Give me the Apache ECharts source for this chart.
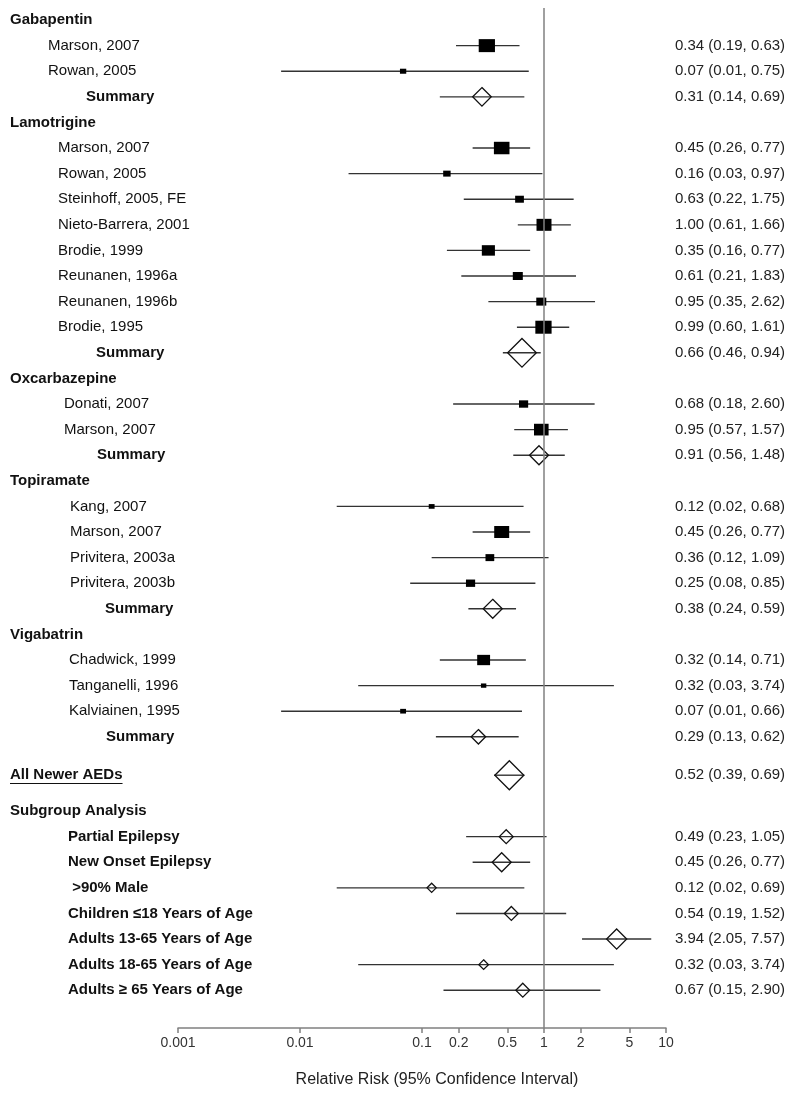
<!DOCTYPE html>
<html>
<head>
<meta charset="utf-8">
<style>
  html, body { margin: 0; padding: 0; background: #fff; }
  #chart { width: 800px; height: 1100px; }
</style>
<script src="https://cdn.jsdelivr.net/npm/echarts@6/dist/echarts.min.js"></script>
</head>
<body>
<div id="chart"></div>
<script>
// ============================================
// Data
// ============================================
const labels = [
    'Gabapentin', 'Marson, 2007', 'Rowan, 2005', 'Summary',
    'Lamotrigine', 'Marson, 2007', 'Rowan, 2005', 'Steinhoff, 2005, FE', 'Nieto-Barrera, 2001',
    'Brodie, 1999', 'Reunanen, 1996a', 'Reunanen, 1996b', 'Brodie, 1995', 'Summary',
    'Oxcarbazepine', 'Donati, 2007', 'Marson, 2007', 'Summary',
    'Topiramate', 'Kang, 2007', 'Marson, 2007', 'Privitera, 2003a', 'Privitera, 2003b', 'Summary',
    'Vigabatrin', 'Chadwick, 1999', 'Tanganelli, 1996', 'Kalviainen, 1995', 'Summary',
    'All Newer AEDs',
    'Subgroup Analysis', 'Partial Epilepsy', 'New Onset Epilepsy', ' >90% Male',
    'Children \u226418 Years of Age', 'Adults 13-65 Years of Age', 'Adults 18-65 Years of Age',
    'Adults \u2265 65 Years of Age'
];

// head = drug heading, study = single trial, summary = pooled drug estimate,
// total = all drugs pooled, subhead / sub = subgroup block
const kinds = [
    'head', 'study', 'study', 'summary',
    'head', 'study', 'study', 'study', 'study', 'study', 'study', 'study', 'study', 'summary',
    'head', 'study', 'study', 'summary',
    'head', 'study', 'study', 'study', 'study', 'summary',
    'head', 'study', 'study', 'study', 'summary',
    'total',
    'subhead', 'sub', 'sub', 'sub', 'sub', 'sub', 'sub', 'sub'
];

const rr = [
    null, 0.34, 0.07, 0.31,
    null, 0.45, 0.16, 0.63, 1.00, 0.35, 0.61, 0.95, 0.99, 0.66,
    null, 0.68, 0.95, 0.91,
    null, 0.12, 0.45, 0.36, 0.25, 0.38,
    null, 0.32, 0.32, 0.07, 0.29,
    0.52,
    null, 0.49, 0.45, 0.12, 0.54, 3.94, 0.32, 0.67
];

const lower = [
    null, 0.19, 0.007, 0.14,
    null, 0.26, 0.025, 0.22, 0.61, 0.16, 0.21, 0.35, 0.60, 0.46,
    null, 0.18, 0.57, 0.56,
    null, 0.02, 0.26, 0.12, 0.08, 0.24,
    null, 0.14, 0.03, 0.007, 0.13,
    0.39,
    null, 0.23, 0.26, 0.02, 0.19, 2.05, 0.03, 0.15
];

const upper = [
    null, 0.63, 0.75, 0.69,
    null, 0.77, 0.97, 1.75, 1.66, 0.77, 1.83, 2.62, 1.61, 0.94,
    null, 2.60, 1.57, 1.48,
    null, 0.68, 0.77, 1.09, 0.85, 0.59,
    null, 0.71, 3.74, 0.66, 0.62,
    0.69,
    null, 1.05, 0.77, 0.69, 1.52, 7.57, 3.74, 2.90
];

// relative marker weight (marker area is proportional to it)
const weights = [
    null, 100, 15, 41,
    null, 92, 21, 29, 85, 65, 38, 38, 100, 98,
    null, 32, 81, 43,
    null, 13, 85, 29, 32, 43,
    null, 63, 11, 13, 25,
    100,
    null, 23, 43, 10, 23, 48, 11, 23
];

const estimateText = [
    '', '0.34 (0.19, 0.63)', '0.07 (0.01, 0.75)', '0.31 (0.14, 0.69)',
    '', '0.45 (0.26, 0.77)', '0.16 (0.03, 0.97)', '0.63 (0.22, 1.75)', '1.00 (0.61, 1.66)',
    '0.35 (0.16, 0.77)', '0.61 (0.21, 1.83)', '0.95 (0.35, 2.62)', '0.99 (0.60, 1.61)', '0.66 (0.46, 0.94)',
    '', '0.68 (0.18, 2.60)', '0.95 (0.57, 1.57)', '0.91 (0.56, 1.48)',
    '', '0.12 (0.02, 0.68)', '0.45 (0.26, 0.77)', '0.36 (0.12, 1.09)', '0.25 (0.08, 0.85)', '0.38 (0.24, 0.59)',
    '', '0.32 (0.14, 0.71)', '0.32 (0.03, 3.74)', '0.07 (0.01, 0.66)', '0.29 (0.13, 0.62)',
    '0.52 (0.39, 0.69)',
    '', '0.49 (0.23, 1.05)', '0.45 (0.26, 0.77)', '0.12 (0.02, 0.69)', '0.54 (0.19, 1.52)',
    '3.94 (2.05, 7.57)', '0.32 (0.03, 3.74)', '0.67 (0.15, 2.90)'
];

const tickValues = [0.001, 0.01, 0.1, 0.2, 0.5, 1, 2, 5, 10];
const axisTitle = 'Relative Risk (95% Confidence Interval)';

// ============================================
// Layout helpers
// ============================================
const FONT = 'Arial, "Liberation Sans", sans-serif';
const studyIndent = [48, 58, 64, 70, 69];
const summaryIndent = [86, 96, 97, 105, 106];

// row positions: one unit per row, a bit of extra space around the total
const rowY = [];
let yPos = 0;
labels.forEach((lab, i) => {
    if (i > 0) yPos += 1;
    if (kinds[i] === 'total') yPos += 0.5;
    if (kinds[i] === 'subhead') yPos += 0.4;
    rowY.push(yPos);
});

const labelX = [];
let groupIdx = -1;
kinds.forEach((k, i) => {
    if (k === 'head') { groupIdx++; labelX.push(10); }
    else if (k === 'study') labelX.push(studyIndent[groupIdx]);
    else if (k === 'summary') labelX.push(summaryIndent[groupIdx]);
    else if (k === 'sub') labelX.push(68);
    else labelX.push(10);
});

const log10 = v => Math.log10(v);

const ciData = [];
const squareData = [];
const diamondData = [];
rr.forEach((v, i) => {
    if (v === null) return;
    ciData.push([log10(lower[i]), log10(upper[i]), rowY[i]]);
    if (kinds[i] === 'study') squareData.push([log10(v), rowY[i], weights[i]]);
    else diamondData.push([log10(v), rowY[i], weights[i]]);
});

const measureCtx = document.createElement('canvas').getContext('2d');

// ============================================
// Chart
// ============================================
const chart = echarts.init(document.getElementById('chart'), null, { renderer: 'canvas' });

const option = {
    animation: false,
    backgroundColor: '#ffffff',
    grid: { left: 178, right: 134, top: 8, bottom: 72 },
    xAxis: {
        type: 'value',
        min: -3,
        max: 1,
        name: axisTitle,
        nameLocation: 'middle',
        nameGap: 44,
        nameTextStyle: { fontFamily: FONT, fontSize: 16, color: '#222', padding: [0, 0, 0, 30] },
        axisLine: { onZero: false, lineStyle: { color: '#808080', width: 1.5 } },
        axisTick: { length: 5, lineStyle: { color: '#808080', width: 1.5 }, customValues: tickValues.map(log10) },
        axisLabel: {
            customValues: tickValues.map(log10),
            fontFamily: FONT,
            fontSize: 14,
            color: '#333',
            margin: 8,
            formatter: v => String(Number(Math.pow(10, v).toPrecision(1)))
        },
        splitLine: { show: false }
    },
    yAxis: {
        type: 'value',
        inverse: true,
        min: -0.47,
        max: 39.375,
        show: false
    },
    series: [
        {
            // confidence interval whiskers + reference line at RR = 1
            type: 'custom',
            z: 2,
            data: ciData,
            renderItem: (params, api) => {
                const a = api.coord([api.value(0), api.value(2)]);
                const b = api.coord([api.value(1), api.value(2)]);
                return {
                    type: 'line',
                    shape: { x1: a[0], y1: a[1], x2: b[0], y2: b[1] },
                    style: { stroke: '#333', lineWidth: 1.4 }
                };
            },
            markLine: {
                silent: true,
                symbol: 'none',
                label: { show: false },
                lineStyle: { color: '#808080', width: 1.5, type: 'solid' },
                data: [{ xAxis: 0 }]
            }
        },
        {
            type: 'scatter',
            z: 3,
            symbol: 'rect',
            data: squareData,
            symbolSize: val => {
                const s = 1.3 * Math.sqrt(val[2]);
                return [s * 1.25, s];
            },
            itemStyle: { color: '#000', opacity: 1 }
        },
        {
            type: 'scatter',
            z: 4,
            symbol: 'diamond',
            data: diamondData,
            symbolSize: val => 2.9 * Math.sqrt(val[2]),
            itemStyle: { color: 'rgba(255,255,255,0)', borderColor: '#111', borderWidth: 1.3, opacity: 1 }
        },
        {
            // left-hand row labels
            type: 'custom',
            z: 5,
            data: labels.map((lab, i) => [i, rowY[i]]),
            renderItem: (params, api) => {
                const i = api.value(0);
                const k = kinds[i];
                const pos = api.coord([0, api.value(1)]);
                const bold = k !== 'study';
                const font = (bold ? 'bold ' : '') + '15px ' + FONT;
                const children = [{
                    type: 'text',
                    x: labelX[i],
                    y: pos[1],
                    style: {
                        text: labels[i],
                        font: font,
                        fill: '#111',
                        verticalAlign: 'middle',
                        align: 'left'
                    }
                }];
                if (k === 'total') {
                    measureCtx.font = font;
                    const w = measureCtx.measureText(labels[i]).width;
                    const uy = Math.round(pos[1] + 8) + 0.5;
                    children.push({
                        type: 'line',
                        shape: { x1: labelX[i], y1: uy, x2: labelX[i] + w, y2: uy },
                        style: { stroke: '#111', lineWidth: 1 }
                    });
                }
                return { type: 'group', children: children };
            }
        },
        {
            // right-hand estimates
            type: 'custom',
            z: 5,
            data: estimateText.map((t, i) => [i, rowY[i]]),
            renderItem: (params, api) => {
                const i = api.value(0);
                const pos = api.coord([0, api.value(1)]);
                return {
                    type: 'text',
                    x: 675,
                    y: pos[1],
                    style: {
                        text: estimateText[i],
                        font: '15px ' + FONT,
                        fill: '#222',
                        verticalAlign: 'middle',
                        align: 'left'
                    }
                };
            }
        }
    ]
};

chart.setOption(option);
window.addEventListener('resize', () => chart.resize());
</script>
</body>
</html>
